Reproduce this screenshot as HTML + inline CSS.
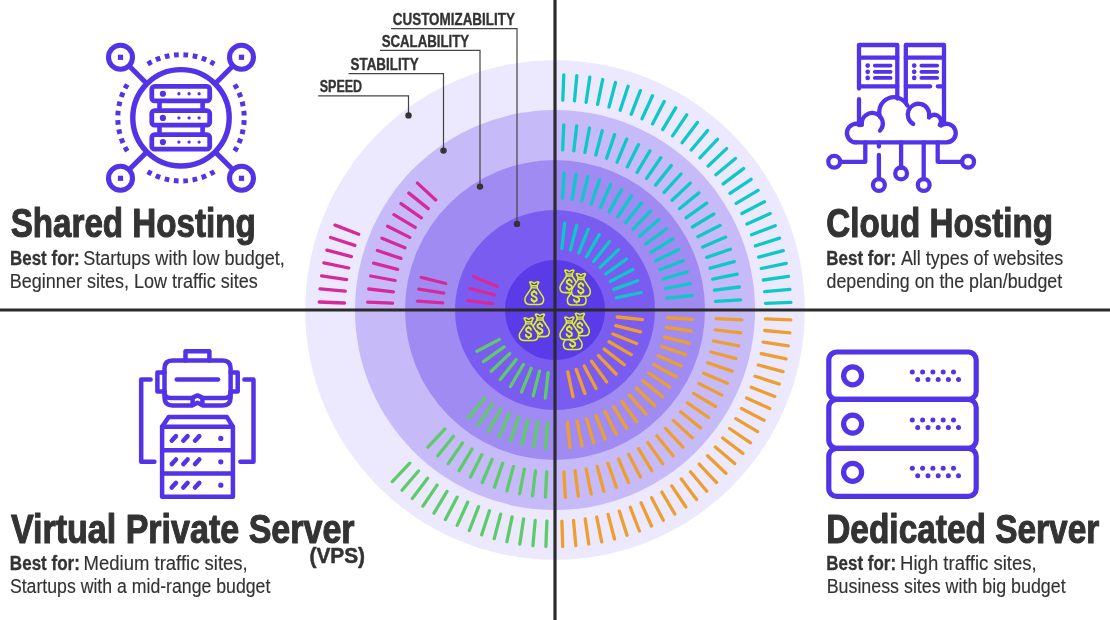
<!DOCTYPE html>
<html><head><meta charset="utf-8"><title>Hosting types</title>
<style>html,body{margin:0;padding:0;background:#fff;}body{width:1110px;height:620px;overflow:hidden;position:relative;font-family:"Liberation Sans",sans-serif;}svg{position:absolute;left:0;top:0;display:block;will-change:transform}text{font-family:"Liberation Sans",sans-serif;fill:#333}</style>
</head><body>
<svg width="1110" height="620" viewBox="0 0 1110 620">
<g id="rings">
<circle cx="555.0" cy="310.0" r="249.8" fill="#ece8fd"/>
<circle cx="555.0" cy="310.0" r="200" fill="#c6baf8"/>
<circle cx="555.0" cy="310.0" r="150" fill="#a08bf3"/>
<circle cx="555.0" cy="310.0" r="100" fill="#7a5cf0"/>
<circle cx="555.0" cy="310.0" r="50" fill="#5a3be8"/>
</g>
<g id="ticks" fill="none" stroke-width="3.3" stroke-linecap="round" transform="translate(0 0.6)">
<path stroke="#0cc8c8" d="M561.9 247.9L564.7 222.5M570.4 249.4L576.7 224.7M578.7 252.2L588.3 228.6M586.5 256.0L599.3 234.0M593.7 260.9L609.5 240.9M600.1 266.8L618.5 249.1M605.7 273.4L626.4 258.5M610.3 280.8L632.8 268.9M613.8 288.8L637.8 280.1M616.2 297.2L641.1 291.9M562.5 197.6L564.1 172.4M572.2 198.7L576.1 173.7M581.8 200.6L587.9 176.1M591.3 203.4L599.4 179.4M600.4 207.0L610.6 183.8M609.2 211.3L621.4 189.1M617.6 216.4L631.6 195.4M625.5 222.2L641.3 202.5M632.9 228.7L650.4 210.4M639.6 235.7L658.7 219.1M645.8 243.4L666.2 228.4M651.2 251.6L672.9 238.4M656.0 260.2L678.7 249.0M659.9 269.1L683.5 259.9M663.1 278.4L687.4 271.3M665.4 287.9L690.2 283.0M666.9 297.6L692.1 294.9M562.6 149.3L563.8 124.4M573.8 150.2L576.7 125.4M584.9 151.9L589.5 127.4M595.8 154.4L602.2 130.2M606.6 157.6L614.6 134.0M617.1 161.6L626.7 138.5M627.3 166.3L638.5 144.0M637.1 171.7L649.9 150.2M646.6 177.8L660.8 157.2M655.6 184.5L671.2 165.0M664.1 191.8L681.0 173.4M672.1 199.7L690.3 182.5M679.5 208.1L698.8 192.3M686.3 217.1L706.7 202.6M692.4 226.4L713.8 213.4M697.9 236.2L720.1 224.8M702.7 246.4L725.7 236.5M706.8 256.8L730.4 248.6M710.1 267.6L734.3 261.0M712.7 278.5L737.2 273.6M714.5 289.6L739.3 286.4M715.6 300.7L740.5 299.3M562.8 99.5L563.8 74.2M574.5 100.3L576.8 75.0M586.1 101.7L589.8 76.6M597.6 103.8L602.7 78.9M609.0 106.4L615.5 81.9M620.2 109.7L628.1 85.6M631.2 113.7L640.4 90.0M642.0 118.2L652.5 95.1M652.5 123.3L664.2 100.8M662.7 129.0L675.7 107.2M672.6 135.3L686.7 114.2M682.1 142.1L697.4 121.8M691.2 149.4L707.6 130.0M699.9 157.2L717.4 138.7M708.2 165.4L726.6 148.0M715.9 174.2L735.4 157.8M723.2 183.3L743.5 168.0M730.0 192.8L751.1 178.7M736.2 202.7L758.1 189.8M741.9 212.9L764.4 201.2M747.0 223.5L770.2 213.0M751.5 234.2L775.2 225.1M755.4 245.3L779.6 237.5M758.7 256.5L783.3 250.0M761.3 267.9L786.2 262.8M763.4 279.4L788.5 275.7M764.7 291.0L790.0 288.7M765.5 302.7L790.9 301.8"/>
<path stroke="#ee9e2e" d="M617.2 316.4L642.5 319.0M615.7 325.0L640.4 331.2M613.0 333.4L636.6 342.9M609.1 341.2L631.2 354.0M604.2 348.5L624.3 364.2M598.4 355.0L616.1 373.4M591.6 360.6L606.6 381.3M584.2 365.3L596.1 387.8M576.2 368.8L584.9 392.8M567.8 371.2L573.0 396.1M667.4 317.1L692.6 318.7M666.3 326.8L691.3 330.6M664.4 336.5L689.0 342.5M661.7 345.9L685.7 354.0M658.2 355.1L681.3 365.3M653.8 364.0L676.0 376.1M648.7 372.4L669.8 386.4M642.9 380.3L662.7 396.1M636.5 387.7L654.8 405.2M629.4 394.5L646.1 413.5M621.7 400.7L636.7 421.1M613.6 406.2L626.7 427.8M604.9 410.9L616.2 433.6M595.9 414.9L605.1 438.5M586.6 418.1L593.7 442.3M577.1 420.4L582.0 445.2M567.4 421.9L570.1 447.1M716.2 318.0L741.9 319.3M715.2 329.3L740.8 332.3M713.5 340.4L738.8 345.2M711.0 351.4L735.9 358.0M707.7 362.1L732.1 370.5M703.7 372.7L727.4 382.7M699.0 382.9L721.9 394.5M693.6 392.8L715.6 405.9M687.5 402.2L708.5 416.9M680.7 411.2L700.7 427.4M673.3 419.8L692.2 437.2M665.4 427.8L683.0 446.5M656.9 435.2L673.1 455.1M647.9 442.0L662.7 463.0M638.5 448.1L651.8 470.1M628.7 453.6L640.4 476.5M618.5 458.4L628.6 482.0M607.9 462.5L616.4 486.7M597.2 465.8L603.9 490.6M586.2 468.4L591.2 493.6M575.1 470.1L578.3 495.6M563.9 471.2L565.3 496.8M765.4 318.3L790.8 319.3M764.7 329.9L789.9 332.3M763.2 341.5L788.3 345.3M761.2 353.0L786.0 358.2M758.4 364.4L783.0 371.0M755.1 375.6L779.3 383.5M751.2 386.6L774.8 395.9M746.6 397.4L769.7 407.9M741.5 407.9L764.0 419.7M735.8 418.1L757.6 431.1M729.5 427.9L750.5 442.2M722.7 437.4L742.9 452.8M715.3 446.5L734.7 463.0M707.5 455.2L725.9 472.7M699.2 463.5L716.6 482.0M690.5 471.2L706.8 490.7M681.3 478.5L696.6 498.8M671.8 485.3L685.9 506.4M661.9 491.5L674.8 513.4M651.6 497.1L663.3 519.7M641.1 502.2L651.5 525.4M630.3 506.7L639.4 530.4M619.3 510.5L627.0 534.7M608.1 513.8L614.5 538.4M596.7 516.4L601.7 541.3M585.2 518.4L588.8 543.6M573.5 519.8L575.8 545.1M561.9 520.5L562.7 545.9"/>
<path stroke="#5ecb69" d="M548.1 372.1L545.3 397.5M539.5 370.6L533.2 395.3M531.2 367.8L521.5 391.4M523.4 363.9L510.5 385.9M516.1 359.0L500.3 378.9M509.7 353.0L491.2 370.6M504.1 346.3L483.4 361.1M499.5 338.8L476.9 350.6M547.4 422.3L545.7 447.6M537.7 421.3L533.8 446.3M528.0 419.3L521.9 443.9M518.6 416.5L510.4 440.5M509.4 413.0L499.2 436.1M500.6 408.6L488.4 430.7M492.2 403.5L478.1 424.5M484.3 397.6L468.4 417.3M546.7 471.3L545.4 496.4M535.5 470.3L532.5 495.2M524.4 468.6L519.6 493.2M513.4 466.0L506.9 490.3M502.6 462.8L494.5 486.5M492.1 458.7L482.3 481.9M481.9 454.0L470.5 476.4M472.0 448.5L459.1 470.1M462.5 442.4L448.2 463.0M453.5 435.6L437.8 455.2M445.0 428.3L427.9 446.6M546.9 520.4L545.9 545.8M535.2 519.7L532.9 545.0M523.6 518.3L519.8 543.4M512.1 516.2L506.9 541.1M500.7 513.5L494.2 538.0M489.5 510.2L481.6 534.3M478.5 506.2L469.3 529.9M467.7 501.7L457.2 524.8M457.2 496.5L445.4 519.0M447.0 490.8L434.0 512.6M437.1 484.5L422.9 505.6M427.6 477.7L412.3 497.9M418.5 470.4L402.0 489.7M409.8 462.6L392.3 481.0"/>
<path stroke="#d62a9b" d="M492.9 303.0L467.6 300.1M494.5 294.3L469.8 287.9M497.3 286.0L473.8 276.2M442.7 302.3L417.4 300.6M443.8 292.5L418.8 288.6M445.7 282.9L421.2 276.8M392.5 302.6L367.7 301.5M393.4 291.2L368.8 288.4M395.1 279.9L370.7 275.4M397.6 268.8L373.6 262.5M400.9 257.8L377.4 249.9M404.9 247.2L382.0 237.6M409.7 236.8L387.6 225.6M415.2 226.8L393.9 214.1M421.4 217.2L401.0 203.0M428.2 208.0L408.9 192.5M435.7 199.4L417.5 182.5M344.5 302.4L319.2 301.4M345.3 290.6L320.0 288.3M346.7 279.0L321.6 275.3M348.7 267.4L323.9 262.3M351.4 256.0L326.9 249.5M354.8 244.8L330.6 236.9M358.7 233.7L335.0 224.5"/>
</g>
<g id="axes" stroke="#2b2b2b" stroke-width="3.2">
<line x1="555.0" y1="0" x2="555.0" y2="620"/>
<line x1="0" y1="310.0" x2="1110" y2="310.0"/>
</g>
<g id="labels">
<g fill="none" stroke="#444" stroke-width="1.2">
<path d="M391 28.6H517V223.9"/>
<path d="M380 50.4H480V186.6"/>
<path d="M348.5 73.7H443.5V150.6"/>
<path d="M318.2 95.8H408.5V115.4"/>
</g>
<g fill="#333">
<circle cx="517" cy="223.9" r="3.2"/>
<circle cx="480" cy="186.6" r="3.2"/>
<circle cx="443.5" cy="150.6" r="3.2"/>
<circle cx="408.5" cy="115.4" r="3.2"/>
</g>
<g id="labeltext">
<text x="392.81" y="24.8" font-size="15.8" font-weight="bold" stroke="#333" stroke-width="0.35" stroke-linejoin="round" textLength="122.08" lengthAdjust="spacingAndGlyphs">CUSTOMIZABILITY</text>
<text x="381.63" y="47.0" font-size="15.8" font-weight="bold" stroke="#333" stroke-width="0.35" stroke-linejoin="round" textLength="87.49" lengthAdjust="spacingAndGlyphs">SCALABILITY</text>
<text x="350.56" y="70.4" font-size="15.8" font-weight="bold" stroke="#333" stroke-width="0.35" stroke-linejoin="round" textLength="68.17" lengthAdjust="spacingAndGlyphs">STABILITY</text>
<text x="319.70" y="92.2" font-size="15.8" font-weight="bold" stroke="#333" stroke-width="0.35" stroke-linejoin="round" textLength="42.49" lengthAdjust="spacingAndGlyphs">SPEED</text>
</g>
</g>

<defs>
<g id="bag" stroke="#dcf31c" stroke-linejoin="round" stroke-linecap="round">
<path d="M7.2 7.1L1.6 15.6Q0.8 17 0.8 18.6Q0.8 23.4 5.2 23.4H15.1Q19.5 23.4 19.5 18.6Q19.5 17 18.7 15.6L13.1 7.1V4.4L14.6 1.7Q14.9 0.8 13.9 0.8Q12.1 0.8 10.15 2.3Q8.2 0.8 6.4 0.8Q5.4 0.8 5.7 1.7L7.2 4.4Z" fill="#5a3be8" stroke-width="1.55"/>
<path d="M7.2 4.7H13.1M7.2 6.8H13.1" fill="none" stroke-width="1.3"/>
<path d="M7.6 5.75H12.7" fill="none" stroke-width="1" stroke-opacity="0.55"/>
<path d="M12.5 12.9C12.3 11.3 11.3 10.7 10.05 10.7C8.6 10.7 7.6 11.5 7.6 12.9C7.6 14.4 8.8 14.9 10.05 15.3C11.5 15.8 12.7 16.3 12.7 17.9C12.7 19.4 11.5 20.2 10.05 20.2C8.6 20.2 7.6 19.5 7.4 18M10.05 9.8V10.5M10.05 20.4V21.2" fill="none" stroke-width="1.9"/>
</g>
</defs>
<g id="bags">
<use href="#bag" x="524.1" y="281"/>
<use href="#bag" x="566.6" y="281.6"/>
<use href="#bag" x="559.2" y="269.2"/>
<use href="#bag" x="570.8" y="272.8"/>
<use href="#bag" x="529.8" y="313.2"/>
<use href="#bag" x="518.5" y="317"/>
<use href="#bag" x="562.6" y="326"/>
<use href="#bag" x="569.8" y="312.4"/>
<use href="#bag" x="559.2" y="316.2"/>
</g>

<g id="icon1" fill="none" stroke="#5333e8">
<circle cx="181.0" cy="117.8" r="48.2" stroke-width="5.4"/>
<path d="M147.70 64.09A63.2 63.2 0 0 1 214.30 64.09M234.71 84.50A63.2 63.2 0 0 1 234.71 151.10M214.30 171.51A63.2 63.2 0 0 1 147.70 171.51M127.29 151.10A63.2 63.2 0 0 1 127.29 84.50" stroke-width="5" stroke-dasharray="4.677 4.677"/>
<circle cx="120.5" cy="57.3" r="12.0" stroke-width="5.1"/>
<rect x="117.9" y="54.7" width="5.2" height="5.2" fill="#5333e8" stroke="none"/>
<line x1="146.92" y1="83.72" x2="128.99" y2="65.79" stroke-width="5"/>
<circle cx="120.5" cy="178.3" r="12.0" stroke-width="5.1"/>
<rect x="117.9" y="175.7" width="5.2" height="5.2" fill="#5333e8" stroke="none"/>
<line x1="146.92" y1="151.88" x2="128.99" y2="169.81" stroke-width="5"/>
<circle cx="241.5" cy="57.3" r="12.0" stroke-width="5.1"/>
<rect x="238.9" y="54.7" width="5.2" height="5.2" fill="#5333e8" stroke="none"/>
<line x1="215.08" y1="83.72" x2="233.01" y2="65.79" stroke-width="5"/>
<circle cx="241.5" cy="178.3" r="12.0" stroke-width="5.1"/>
<rect x="238.9" y="175.7" width="5.2" height="5.2" fill="#5333e8" stroke="none"/>
<line x1="215.08" y1="151.88" x2="233.01" y2="169.81" stroke-width="5"/>
<rect x="151.8" y="86.4" width="57.9" height="14.5" rx="2.8" stroke-width="4.8"/>
<circle cx="162.9" cy="93.75" r="3.1" fill="#5333e8" stroke="none"/>
<circle cx="178.9" cy="93.75" r="1.65" fill="#5333e8" stroke="none"/>
<circle cx="189.1" cy="93.75" r="1.65" fill="#5333e8" stroke="none"/>
<circle cx="199.1" cy="93.75" r="1.65" fill="#5333e8" stroke="none"/>
<rect x="151.8" y="110.55" width="57.9" height="14.5" rx="2.8" stroke-width="4.8"/>
<circle cx="162.9" cy="117.90" r="3.1" fill="#5333e8" stroke="none"/>
<circle cx="178.9" cy="117.90" r="1.65" fill="#5333e8" stroke="none"/>
<circle cx="189.1" cy="117.90" r="1.65" fill="#5333e8" stroke="none"/>
<circle cx="199.1" cy="117.90" r="1.65" fill="#5333e8" stroke="none"/>
<rect x="151.8" y="134.7" width="57.9" height="14.5" rx="2.8" stroke-width="4.8"/>
<circle cx="162.9" cy="142.05" r="3.1" fill="#5333e8" stroke="none"/>
<circle cx="178.9" cy="142.05" r="1.65" fill="#5333e8" stroke="none"/>
<circle cx="189.1" cy="142.05" r="1.65" fill="#5333e8" stroke="none"/>
<circle cx="199.1" cy="142.05" r="1.65" fill="#5333e8" stroke="none"/>
<path d="M159.5 100.9V110.6M159.5 125V134.7" stroke-width="4.6"/>
<path d="M202.6 100.9V110.6M202.6 125V134.7" stroke-width="4.6"/>
</g>
<g id="icon2" fill="none" stroke="#5333e8" stroke-width="4.3" stroke-linecap="round" stroke-linejoin="round">
<!-- left tower -->
<path d="M859 88.6V45H897.3V98.5"/>
<path d="M859 57.7H897.3M859 86.3H897.3"/>
<path d="M859 99.2V125"/>
<!-- right tower -->
<path d="M905.8 103V45H944V124"/>
<path d="M905.8 57.7H944M905.8 86.3H930.2M937.8 86.3H944"/>
<!-- lists -->
<g stroke-width="3.8">
<path d="M874.8 65.6H890.6M874.8 71.8H890.6M874.8 77.9H890.6"/>
<path d="M921.4 65.6H937.2M921.4 71.8H937.2M921.4 77.9H937.2"/>
</g>
<g fill="#5333e8" stroke="none">
<circle cx="867.7" cy="65.6" r="2.35"/><circle cx="867.7" cy="71.8" r="2.35"/><circle cx="867.7" cy="77.9" r="2.35"/>
<circle cx="914.2" cy="65.6" r="2.35"/><circle cx="914.2" cy="71.8" r="2.35"/><circle cx="914.2" cy="77.9" r="2.35"/>
</g>
<!-- cloud -->
<path d="M856.2 142.4A9.3 9.3 0 1 1 860.6 124.9"/>
<path d="M861.9 124.8A10.5 10.5 0 1 1 880 130.6"/>
<path d="M880.2 117.2A14.8 14.8 0 0 1 907.4 105.6"/>
<path d="M913.2 123.9A10.75 10.75 0 1 1 929.1 116.2"/>
<path d="M929 117.6A6 6 0 0 1 939.8 125"/>
<path d="M941.1 125.5A9.3 9.3 0 1 1 946.4 142.4H856.2"/>
<!-- legs -->
<path d="M865.3 142.4V161.8H840"/>
<path d="M878.9 142.4V146.6M878.9 155V179"/>
<path d="M901.1 142.4V167.5"/>
<path d="M923.7 142.4V179"/>
<path d="M937.7 142.4V161.8H962"/>
<circle cx="834.2" cy="161.8" r="5.9"/>
<circle cx="878.9" cy="185" r="5.9"/>
<circle cx="901.1" cy="173.4" r="5.9"/>
<circle cx="923.7" cy="185" r="5.9"/>
<circle cx="968.1" cy="161.8" r="5.9"/>
</g>

<g id="icon3" fill="none" stroke="#5333e8" stroke-width="4.5" stroke-linecap="round" stroke-linejoin="round">
<!-- headset -->
<path d="M185.5 360.6V351.2H209.4V360.6"/>
<path d="M172.5 360.6H222.6Q230.6 360.6 230.6 368.6V397.5Q230.6 405.5 222.6 405.5H203L197.5 402.8L192 405.5H172.5Q164.5 405.5 164.5 397.5V368.6Q164.5 360.6 172.5 360.6Z"/>
<path d="M164.5 392Q164.5 398.1 170.6 398.1H191.6L197.5 395.4L203.4 398.1H224.5Q230.6 398.1 230.6 392"/>
<path d="M192.6 398.6V405M202.4 398.6V405" stroke-width="4.5"/>
<path d="M164.5 372.5H157.4V391.6H164.5M230.6 372.5H237.7V391.6H230.6"/>
<path d="M176.8 379.6H218"/>
<!-- brackets -->
<path d="M150.6 379.6H141.2V461.8H154.4"/>
<path d="M244.4 379.6H253.5V461.8H240.4"/>
<!-- server -->
<path d="M168.7 416.9H226.8L232.9 426.8V496.8H162.1V426.8Z"/>
<path d="M162.1 426.8H232.9M162.1 450.2H232.9M162.1 473.4H232.9"/>
<g id="row3">
<path d="M171.7 440.7L176 436.1M183.3 440.7L187.6 436.1M195 440.7L199.3 436.1"/>
<circle cx="220.8" cy="438.4" r="2.6" fill="#5333e8" stroke="none"/>
</g>
<use href="#row3" y="23.4"/>
<use href="#row3" y="46.8"/>
</g>

<g id="icon4" fill="none" stroke="#5333e8" stroke-width="5.2">
<rect x="828.8" y="352" width="147.4" height="47.4" rx="8"/>
<rect x="828.8" y="399.4" width="147.4" height="48.9" rx="8"/>
<rect x="828.8" y="448.3" width="147.4" height="48.1" rx="8"/>
<circle cx="852.6" cy="375.8" r="9"/>
<circle cx="852.6" cy="424.1" r="9"/>
<circle cx="852.6" cy="472.3" r="9"/>
<g fill="#5333e8" stroke="none">
<g id="dots4">
<circle cx="912.3" cy="371.9" r="2.5"/><circle cx="922.6" cy="371.9" r="2.5"/><circle cx="932.9" cy="371.9" r="2.5"/><circle cx="943.2" cy="371.9" r="2.5"/><circle cx="953.5" cy="371.9" r="2.5"/>
<circle cx="917.7" cy="379.4" r="2.5"/><circle cx="928" cy="379.4" r="2.5"/><circle cx="938.2" cy="379.4" r="2.5"/><circle cx="948.4" cy="379.4" r="2.5"/><circle cx="958.5" cy="379.4" r="2.5"/>
</g>
<use href="#dots4" y="48.2"/>
<use href="#dots4" y="96.4"/>
</g>
</g>

<g id="text">
<text x="10.70" y="237.3" font-size="40.3" font-weight="bold" stroke="#333" stroke-width="1.1" stroke-linejoin="round" textLength="245.03" lengthAdjust="spacingAndGlyphs">Shared Hosting</text>
<text x="826.32" y="237.3" font-size="40.3" font-weight="bold" stroke="#333" stroke-width="1.1" stroke-linejoin="round" textLength="226.78" lengthAdjust="spacingAndGlyphs">Cloud Hosting</text>
<text x="10.91" y="543.1" font-size="40.3" font-weight="bold" stroke="#333" stroke-width="1.1" stroke-linejoin="round" textLength="343.71" lengthAdjust="spacingAndGlyphs">Virtual Private Server</text>
<text x="826.23" y="543.1" font-size="40.3" font-weight="bold" stroke="#333" stroke-width="1.1" stroke-linejoin="round" textLength="273.06" lengthAdjust="spacingAndGlyphs">Dedicated Server</text>
<text x="309.46" y="563.4" font-size="21.2" font-weight="bold" stroke="#333" stroke-width="0.5" stroke-linejoin="round" textLength="55.56" lengthAdjust="spacingAndGlyphs">(VPS)</text>
<text x="10.02" y="264.6" font-size="19.5" font-weight="bold" stroke="#333" stroke-width="0.3" stroke-linejoin="round" textLength="69.72" lengthAdjust="spacingAndGlyphs">Best for:</text>
<text x="83.17" y="264.6" font-size="19.5" font-weight="normal" stroke="#333" stroke-width="0.15" stroke-linejoin="round" textLength="201.61" lengthAdjust="spacingAndGlyphs">Startups with low budget,</text>
<text x="9.81" y="287.6" font-size="19.5" font-weight="normal" stroke="#333" stroke-width="0.15" stroke-linejoin="round" textLength="247.95" lengthAdjust="spacingAndGlyphs">Beginner sites, Low traffic sites</text>
<text x="826.28" y="264.6" font-size="19.5" font-weight="bold" stroke="#333" stroke-width="0.3" stroke-linejoin="round" textLength="69.79" lengthAdjust="spacingAndGlyphs">Best for:</text>
<text x="900.88" y="264.6" font-size="19.5" font-weight="normal" stroke="#333" stroke-width="0.15" stroke-linejoin="round" textLength="162.44" lengthAdjust="spacingAndGlyphs">All types of websites</text>
<text x="826.52" y="287.6" font-size="19.5" font-weight="normal" stroke="#333" stroke-width="0.15" stroke-linejoin="round" textLength="235.63" lengthAdjust="spacingAndGlyphs">depending on the plan/budget</text>
<text x="9.84" y="569.6" font-size="19.5" font-weight="bold" stroke="#333" stroke-width="0.3" stroke-linejoin="round" textLength="70.10" lengthAdjust="spacingAndGlyphs">Best for:</text>
<text x="83.58" y="569.6" font-size="19.5" font-weight="normal" stroke="#333" stroke-width="0.15" stroke-linejoin="round" textLength="164.13" lengthAdjust="spacingAndGlyphs">Medium traffic sites,</text>
<text x="9.92" y="592.6" font-size="19.5" font-weight="normal" stroke="#333" stroke-width="0.15" stroke-linejoin="round" textLength="260.39" lengthAdjust="spacingAndGlyphs">Startups with a mid-range budget</text>
<text x="826.28" y="569.6" font-size="19.5" font-weight="bold" stroke="#333" stroke-width="0.3" stroke-linejoin="round" textLength="69.79" lengthAdjust="spacingAndGlyphs">Best for:</text>
<text x="900.11" y="569.6" font-size="19.5" font-weight="normal" stroke="#333" stroke-width="0.15" stroke-linejoin="round" textLength="136.61" lengthAdjust="spacingAndGlyphs">High traffic sites,</text>
<text x="826.65" y="592.6" font-size="19.5" font-weight="normal" stroke="#333" stroke-width="0.15" stroke-linejoin="round" textLength="238.97" lengthAdjust="spacingAndGlyphs">Business sites with big budget</text>
</g>

</svg>
</body></html>
